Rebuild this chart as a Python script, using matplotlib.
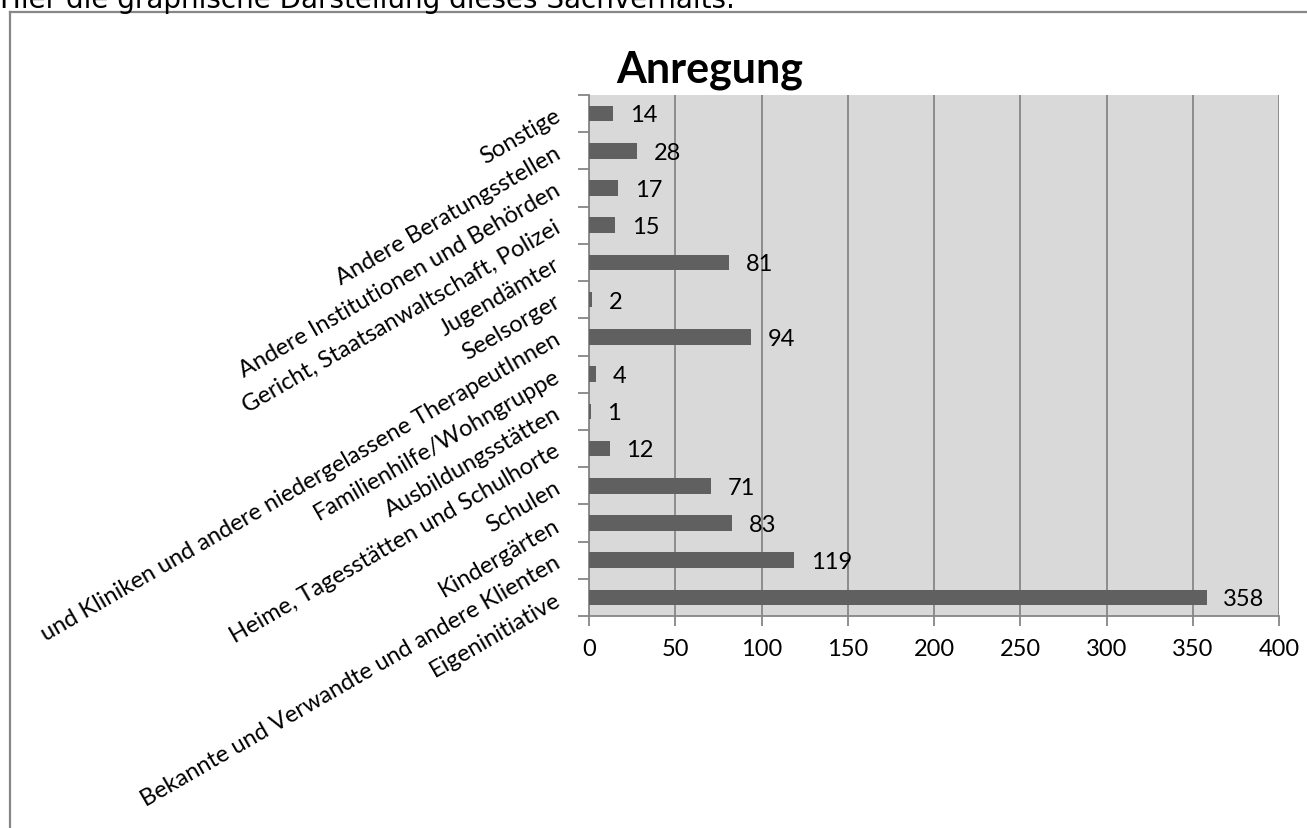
import matplotlib
matplotlib.use("Agg")
import matplotlib.pyplot as plt
from matplotlib.lines import Line2D
from matplotlib.ticker import FixedLocator

# Categories listed top to bottom, with their counts
categories = [
    "Sonstige",
    "Andere Beratungsstellen",
    "Andere Institutionen und Behörden",
    "Gericht, Staatsanwaltschaft, Polizei",
    "Jugendämter",
    "Seelsorger",
    "und Kliniken und andere niedergelassene TherapeutInnen",
    "Familienhilfe/Wohngruppe",
    "Ausbildungsstätten",
    "Heime, Tagesstätten und Schulhorte",
    "Schulen",
    "Kindergärten",
    "Bekannte und Verwandte und andere Klienten",
    "Eigeninitiative",
]
counts = [14, 28, 17, 15, 81, 2, 94, 4, 1, 12, 71, 83, 119, 358]
x_ticks = [0, 50, 100, 150, 200, 250, 300, 350, 400]

title = "Anregung"
intro = "Hier die graphische Darstellung dieses Sachverhalts."

W, H = 1307, 829
fig = plt.figure(figsize=(W / 100, H / 100), dpi=100)
fig.patch.set_facecolor("white")

FONT = "Lato"
FS = 17
GRID = "#868686"
BAR = "#606060"

# Page text above the chart frame (partly cut at the top edge)
fig.text(0 / W, 1 - 8.5 / H, intro, family="DejaVu Sans", fontsize=20,
         ha="left", va="baseline", color="black")

# Chart frame: left and top edges
fig.add_artist(Line2D([10 / W, 10 / W], [0, 1 - 13 / H], transform=fig.transFigure,
                      color="#878787", lw=1.6))
fig.add_artist(Line2D([10 / W, 1], [1 - 13 / H, 1 - 13 / H], transform=fig.transFigure,
                      color="#878787", lw=1.6))

left, right = 589 / W, 1279 / W
top, bottom = 1 - 96 / H, 1 - 617 / H
ax = fig.add_axes([left, bottom, right - left, top - bottom])
ax.set_facecolor("#d9d9d9")

n = len(categories)
ypos = [n - 1 - i for i in range(n)]
ax.barh(ypos, counts, height=0.42, color=BAR, zorder=3)

for y, v in zip(ypos, counts):
    ax.annotate(str(v), (v, y), xytext=(12, -1), textcoords="offset points",
                ha="left", va="center", fontsize=FS, family=FONT, color="black",
                annotation_clip=False)

ax.set_xlim(0, 400)
ax.set_ylim(-0.5, n - 0.5)
ax.xaxis.set_major_locator(FixedLocator(x_ticks))
ax.set_xticklabels([str(t) for t in x_ticks], family=FONT, fontsize=FS)
ax.grid(axis="x", color=GRID, lw=1.3, zorder=1)
ax.set_axisbelow(True)

ax.set_yticks(ypos)
ax.set_yticklabels(categories, family=FONT, fontsize=FS, rotation=30,
                   rotation_mode="anchor", ha="right", va="center")
ax.tick_params(axis="y", which="major", length=0, pad=22)
ax.yaxis.set_minor_locator(FixedLocator([k - 0.5 for k in range(n + 1)]))
ax.tick_params(axis="y", which="minor", length=8, width=1.3, color=GRID)
ax.tick_params(axis="x", which="major", length=7, width=1.3, color=GRID, pad=9)

for s in ("top", "right"):
    ax.spines[s].set_visible(False)
for s in ("left", "bottom"):
    ax.spines[s].set_color(GRID)
    ax.spines[s].set_linewidth(1.3)

fig.text(710 / W, 1 - 70 / H, title, family=FONT, fontweight="bold", fontsize=31,
         ha="center", va="center", color="black")

fig.savefig("out.png", dpi=100, facecolor="white")
